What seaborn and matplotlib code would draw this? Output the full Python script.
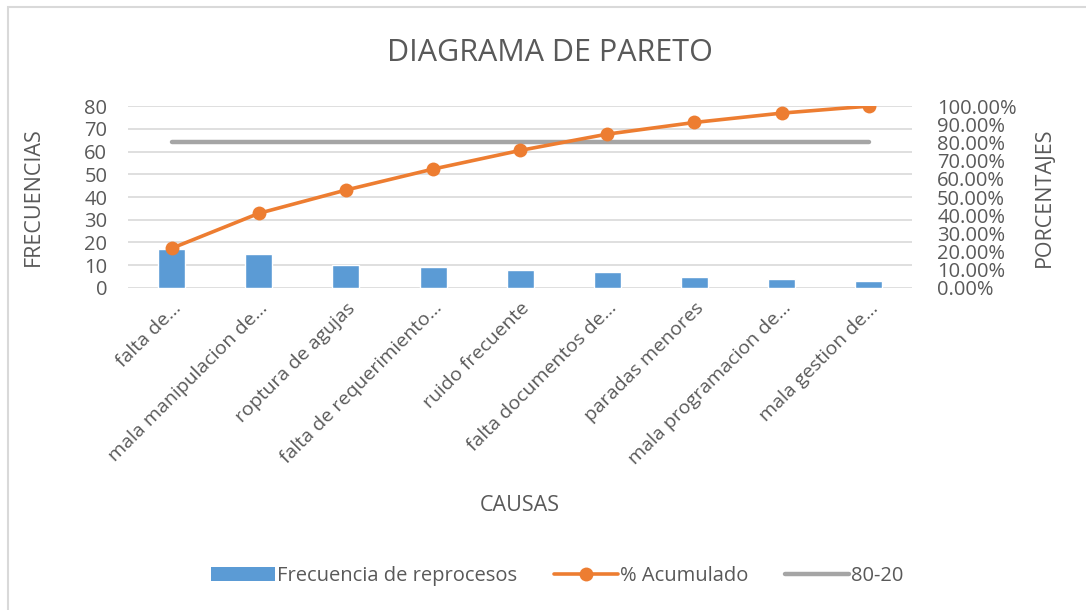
import numpy as np
import pandas as pd
import matplotlib
matplotlib.use("Agg")
import matplotlib.pyplot as plt
import seaborn as sns
from matplotlib.lines import Line2D
from matplotlib.patches import Patch, Rectangle
from matplotlib.ticker import FuncFormatter, MultipleLocator

# data
causas = [
    "falta de...",
    "mala manipulacion de...",
    "roptura de agujas",
    "falta de requerimiento...",
    "ruido frecuente",
    "falta documentos de...",
    "paradas menores",
    "mala programacion de...",
    "mala gestion de...",
]
frecuencias = [17, 15, 10, 9, 8, 7, 5, 4, 3]
linea_80_20 = [80, 80, 80, 80, 80, 80, 80, 80, 80]

BLUE = "#5B9BD5"
ORANGE = "#ED7D31"
GRAY = "#A5A5A5"
TEXT = "#595959"
GRID = "#D9D9D9"

df = pd.DataFrame({"causa": causas, "frecuencia": frecuencias})
df["acumulado"] = df["frecuencia"].cumsum() / df["frecuencia"].sum() * 100
df["pos"] = np.arange(len(df))
df["ref"] = linea_80_20

sns.set_theme(style="white")
plt.rcParams["font.family"] = ["Open Sans", "DejaVu Sans"]

fig = plt.figure(figsize=(10.86, 6.10), dpi=100)
ax = fig.add_axes([0.118, 0.528, 0.722, 0.298])

sns.barplot(data=df, x="causa", y="frecuencia", color=BLUE, width=0.31,
            saturation=1, ax=ax, zorder=2)
ax.set_ylim(0, 80)
ax.set_xlim(-0.5, len(df) - 0.5)
ax.yaxis.set_major_locator(MultipleLocator(10))
ax.grid(axis="y", color=GRID, linewidth=1.2, zorder=0)
ax.set_axisbelow(True)
ax.set_xlabel("")
ax.set_ylabel("")
ax.set_xticks(df["pos"])
ax.set_xticklabels(causas, rotation=45, ha="right", rotation_mode="anchor",
                   fontsize=14, color=TEXT)
ax.tick_params(axis="y", labelsize=14.5, colors=TEXT, length=0, pad=15)
ax.tick_params(axis="x", length=0, pad=8)
for s in ax.spines.values():
    s.set_visible(False)

ax2 = ax.twinx()
sns.lineplot(data=df, x="pos", y="ref", color=GRAY, linewidth=3.2,
             solid_capstyle="round", ax=ax2, zorder=3)
sns.lineplot(data=df, x="pos", y="acumulado", color=ORANGE, linewidth=2.6,
             marker="o", markersize=10, markeredgewidth=0, ax=ax2, zorder=4)
ax2.set_ylim(0, 100)
ax2.yaxis.set_major_locator(MultipleLocator(10))
ax2.yaxis.set_major_formatter(FuncFormatter(lambda v, p: f"{v:.2f}%"))
ax2.tick_params(axis="y", labelsize=14.5, colors=TEXT, length=0, pad=18)
ax2.set_xlabel("")
ax2.set_ylabel("")
ax2.set_xlim(-0.5, len(df) - 0.5)
for s in ax2.spines.values():
    s.set_visible(False)

fig.text(0.506, 0.913, "DIAGRAMA DE PARETO", ha="center", va="center",
         fontsize=22, color=TEXT)
fig.text(0.031, 0.677, "FRECUENCIAS", rotation=90, ha="center", va="center",
         fontsize=15.5, color=TEXT)
fig.text(0.962, 0.677, "PORCENTAJES", rotation=90, ha="center", va="center",
         fontsize=15.5, color=TEXT)
fig.text(0.479, 0.171, "CAUSAS", ha="center", va="center",
         fontsize=15.5, color=TEXT)

handles = [
    Patch(facecolor=BLUE, edgecolor="none"),
    Line2D([], [], color=ORANGE, linewidth=2.6, marker="o", markersize=10,
           markeredgewidth=0),
    Line2D([], [], color=GRAY, linewidth=3.2, solid_capstyle="round"),
]
fig.legend(handles, ["Frecuencia de reprocesos", "% Acumulado", "80-20"],
           loc="center", bbox_to_anchor=(0.513, 0.056), ncol=3, frameon=False,
           fontsize=14.5, labelcolor=TEXT, handlelength=3.2, handletextpad=0.1,
           columnspacing=1.8)

# chart border (only the top and left edges fall inside the image)
fig.patches.append(Rectangle((0.0075, -0.05), 1.1, 1.0385,
                             transform=fig.transFigure, fill=False,
                             edgecolor=GRID, linewidth=1.5))

fig.savefig("out.png", dpi=100)
